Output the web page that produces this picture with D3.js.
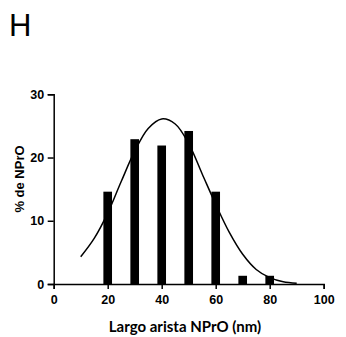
<!DOCTYPE html>
<html><head><meta charset="utf-8">
<script src="https://cdn.jsdelivr.net/npm/d3@7"></script>
<style>body{margin:0;background:#fff;}svg{display:block;}</style>
</head><body>
<script>
const barX = [20, 30, 40, 50, 60, 70, 80];
const barPct = [14.6, 22.9, 21.9, 24.2, 14.6, 1.3, 1.3];
const curveX = [10, 15, 20, 25, 30, 35, 40, 45, 50, 55, 60, 65, 70, 75, 80, 85, 90];
const curveY = [4.3, 7.2, 11.2, 16.2, 21.0, 24.6, 26.1, 25.3, 22.2, 17.4, 12.6, 8.2, 4.7, 2.3, 1.0, 0.35, 0.1];
const xTicks = [0, 20, 40, 60, 80, 100];
const yTicks = [0, 10, 20, 30];
const panelLabel = "H";
const xTitle = "Largo arista NPrO (nm)";
const yTitle = "% de NPrO";

const W = 346, H = 337;
const svg = d3.select("body").append("svg").attr("width", W).attr("height", H);
const x = d3.scaleLinear().domain([0, 100]).range([53.7, 323.7]);
const y = d3.scaleLinear().domain([0, 30]).range([284, 94.3]);
const barW = x(3.2) - x(0);

svg.append("text").attr("x", 9).attr("y", 36).attr("font-family", "Liberation Sans, Arial, sans-serif")
  .attr("font-size", 31).attr("fill", "#000").text(panelLabel);

svg.append("g").selectAll("rect").data(barX).join("rect")
  .attr("x", d => x(d) - barW / 2)
  .attr("width", barW)
  .attr("y", (d, i) => y(barPct[i]))
  .attr("height", (d, i) => y(0) - y(barPct[i]))
  .attr("fill", "#000");

const pts = curveX.map((d, i) => [d, curveY[i]]);
svg.append("path").datum(pts)
  .attr("d", d3.line().x(d => x(d[0])).y(d => y(d[1])).curve(d3.curveCatmullRom))
  .attr("fill", "none").attr("stroke", "#000").attr("stroke-width", 1.5);

const font = "Liberation Sans, Arial, sans-serif";
const xAxis = svg.append("g").attr("transform", `translate(0,${y(0)})`)
  .call(d3.axisBottom(x).tickValues(xTicks).tickSize(5).tickPadding(6));
const yAxis = svg.append("g").attr("transform", `translate(${x(0)},0)`)
  .call(d3.axisLeft(y).tickValues(yTicks).tickSize(6).tickPadding(3.5));
[xAxis, yAxis].forEach(g => {
  g.select(".domain").attr("stroke", "#000").attr("stroke-width", 1.5);
  g.selectAll(".tick line").attr("stroke", "#000").attr("stroke-width", 1.5);
  g.selectAll(".tick text").attr("font-family", font).attr("font-weight", "bold")
    .attr("font-size", 12.5).attr("fill", "#000");
});

svg.append("text").attr("transform", "translate(24,179) rotate(-90)")
  .attr("text-anchor", "middle").attr("font-family", font).attr("font-weight", "bold")
  .attr("font-size", 13).attr("fill", "#000").text(yTitle);

svg.append("text").attr("x", 185).attr("y", 332)
  .attr("text-anchor", "middle").attr("font-family", "Lato, sans-serif").attr("font-weight", "bold")
  .attr("font-size", 15).attr("fill", "#000").text(xTitle);
</script>
</body></html>
